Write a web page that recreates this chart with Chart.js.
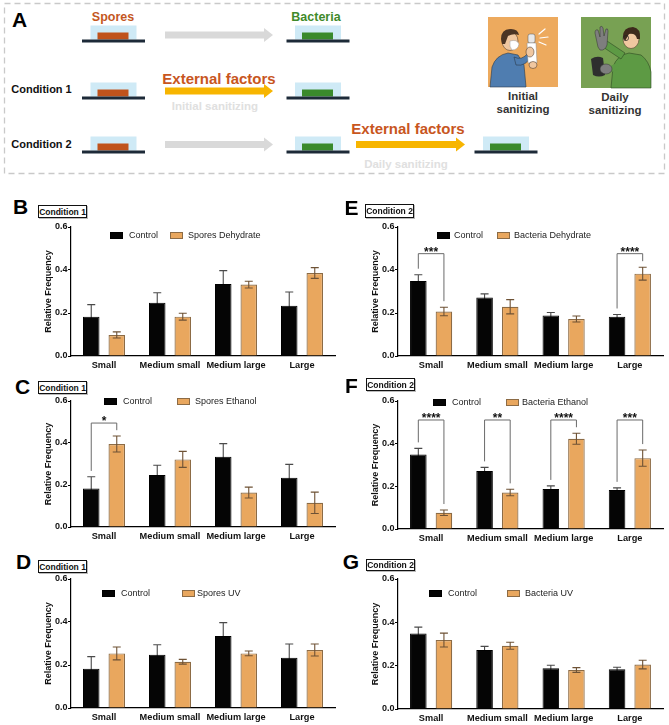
<!DOCTYPE html>
<html>
<head>
<meta charset="utf-8">
<script src="https://cdn.jsdelivr.net/npm/chart.js@4.4.1/dist/chart.umd.min.js"></script>
<style>
  html, body { margin: 0; padding: 0; background: #fff; }
  body { width: 669px; height: 725px; position: relative; overflow: hidden; font-family: 'Liberation Sans', Arial, sans-serif; }
  .abs { position: absolute; }
  canvas { position: absolute; }
  .t { position: absolute; line-height: 1; white-space: nowrap; color: #111; }
  .cond { position: absolute; border: 1px solid #111; box-sizing: border-box; font-weight: bold; font-size: 8.5px; display: flex; align-items: center; justify-content: center; color: #111; background: #fff; box-shadow: 1px 1px 0 #bbb; }
  .lgbox { position: absolute; box-sizing: border-box; }
</style>
</head>
<body>

<svg class="abs" style="left:0;top:0" width="669" height="178" xmlns="http://www.w3.org/2000/svg" font-family="'Liberation Sans', Arial, sans-serif">
  <rect x="4.5" y="3.5" width="660" height="170" fill="none" stroke="#c9c9c9" stroke-width="1.3" stroke-dasharray="6 4"/>
  <text x="12" y="27" font-size="21" font-weight="bold" fill="#000">A</text>
  <text x="113" y="20.5" font-size="12.5" font-weight="bold" fill="#c4571f" text-anchor="middle">Spores</text>
  <text x="316" y="20.5" font-size="12.5" font-weight="bold" fill="#3f8a2a" text-anchor="middle">Bacteria</text>
  <text x="41.5" y="93" font-size="11" font-weight="bold" fill="#111" text-anchor="middle">Condition 1</text>
  <text x="41.5" y="148" font-size="11" font-weight="bold" fill="#111" text-anchor="middle">Condition 2</text>
  <text x="219" y="83.5" font-size="15" font-weight="bold" fill="#c8561e" text-anchor="middle">External factors</text>
  <text x="408" y="133.5" font-size="15" font-weight="bold" fill="#c8561e" text-anchor="middle">External factors</text>
  <text x="215" y="110" font-size="11.5" font-weight="bold" fill="#e0e0e0" text-anchor="middle">Initial sanitizing</text>
  <text x="406" y="168" font-size="11.5" font-weight="bold" fill="#e0e0e0" text-anchor="middle">Daily sanitizing</text>
  <g id="dishes"></g>
  <g id="arrows"></g>

  <g transform="translate(488,17)">
    <rect width="70" height="70" fill="#EDAA5E"/>
    <path d="M2 70 L4 50 Q8 38 20 36 L30 38 L36 48 L38 70 Z" fill="#4f7db0" stroke="#2b3a4a" stroke-width="0.6"/>
    <ellipse cx="22" cy="24" rx="8" ry="9.5" fill="#f0c7a0" stroke="#3a2a20" stroke-width="0.5"/>
    <path d="M13 22 Q13 12 23 12 Q30 12 31 18 Q25 16 20 19 L17 27 L14 27 Z" fill="#4b3424"/>
    <path d="M22 24 Q29 22 31 27 Q30 33 24 33 Q21 30 22 24 Z" fill="#fff" stroke="#999" stroke-width="0.5"/>
    <path d="M26 40 Q34 44 40 36 L44 38 Q38 50 28 48 Z" fill="#4f7db0" stroke="#2b3a4a" stroke-width="0.6"/>
    <rect x="40" y="17" width="7" height="9" rx="2" fill="#e8e8e8" stroke="#555" stroke-width="0.5"/>
    <path d="M39 26 L48 26 L49 46 L40 46 Z" fill="#fff" stroke="#888" stroke-width="0.5"/>
    <ellipse cx="42" cy="35" rx="4" ry="5" fill="#f0c7a0" stroke="#3a2a20" stroke-width="0.5"/>
    <ellipse cx="45" cy="48" rx="4" ry="3.5" fill="#f0c7a0" stroke="#3a2a20" stroke-width="0.5"/>
    <g stroke="#fff" stroke-width="1.2" stroke-linecap="round"><line x1="51" y1="17" x2="57" y2="12"/><line x1="52" y1="21" x2="60" y2="20"/><line x1="51" y1="25" x2="58" y2="28"/></g>
  </g>
  <g transform="translate(581,17)">
    <rect width="70" height="71" fill="#78A153"/>
    <path d="M30 71 L32 50 Q36 38 48 36 L60 38 Q68 44 70 55 L70 71 Z" fill="#5d9a44" stroke="#2d4a22" stroke-width="0.6"/>
    <ellipse cx="50" cy="22" rx="8" ry="9.5" fill="#f0c7a0" stroke="#3a2a20" stroke-width="0.5"/>
    <path d="M42 20 Q42 10 52 10 Q60 11 59 22 L56 22 Q55 16 48 17 L44 24 Z" fill="#3d2a1c"/>
    <circle cx="45" cy="21" r="2.6" fill="none" stroke="#222" stroke-width="0.7"/>
    <path d="M40 42 L22 30 L26 24 L44 36 Z" fill="#5d9a44" stroke="#2d4a22" stroke-width="0.6"/>
    <path d="M17 30 L14 16 Q14 12 17 13 L19 20 L19 10 Q21 8 22 11 L23 19 L25 12 Q27 11 27 14 L26 28 Q24 34 19 33 Z" fill="#7e7e7e" stroke="#333" stroke-width="0.5"/>
    <path d="M38 52 L28 56 L27 50 L36 46 Z" fill="#5d9a44"/>
    <path d="M10 42 Q16 38 22 41 L24 58 Q18 61 12 58 Z" fill="#2e2e2e"/>
    <ellipse cx="25" cy="52" rx="6" ry="5" fill="#7e7e7e" stroke="#333" stroke-width="0.5"/>
  </g>
  <text x="523" y="100" font-size="11.5" font-weight="bold" fill="#333" text-anchor="middle">Initial</text>
  <text x="523" y="112.5" font-size="11.5" font-weight="bold" fill="#333" text-anchor="middle">sanitizing</text>
  <text x="615" y="101" font-size="11.5" font-weight="bold" fill="#333" text-anchor="middle">Daily</text>
  <text x="615" y="114" font-size="11.5" font-weight="bold" fill="#333" text-anchor="middle">sanitizing</text>
</svg>

<script>
// ---------------- DATA ----------------
const categories = ['Small', 'Medium small', 'Medium large', 'Large'];
const yTicks = [0, 0.2, 0.4, 0.6];

const control1 = [0.183, 0.248, 0.335, 0.234];
const control1Err = [0.056, 0.046, 0.062, 0.064];
const sporesDehydrate = [0.098, 0.183, 0.332, 0.386];
const sporesDehydrateErr = [0.014, 0.016, 0.016, 0.025];
const sporesEthanol = [0.395, 0.322, 0.164, 0.115];
const sporesEthanolErr = [0.038, 0.038, 0.026, 0.051];
const sporesUV = [0.254, 0.215, 0.254, 0.270];
const sporesUVErr = [0.030, 0.011, 0.011, 0.028];

const control2 = [0.349, 0.272, 0.188, 0.183];
const control2Err = [0.029, 0.017, 0.014, 0.010];
const bacteriaDehydrate = [0.207, 0.229, 0.172, 0.383];
const bacteriaDehydrateErr = [0.020, 0.033, 0.014, 0.030];
const bacteriaEthanol = [0.076, 0.171, 0.423, 0.332];
const bacteriaEthanolErr = [0.013, 0.015, 0.026, 0.038];
const bacteriaUV = [0.318, 0.292, 0.180, 0.205];
const bacteriaUVErr = [0.032, 0.016, 0.011, 0.020];

// significance: category index, stars, bracket level
const sigB = [];
const sigC = [{ cat: 0, stars: '*', level: 0.495 }];
const sigD = [];
const sigE = [{ cat: 0, stars: '***', level: 0.476 }, { cat: 3, stars: '****', level: 0.476 }];
const sigF = [{ cat: 0, stars: '****', level: 0.511 }, { cat: 1, stars: '**', level: 0.511 },
              { cat: 2, stars: '****', level: 0.511 }, { cat: 3, stars: '***', level: 0.511 }];
const sigG = [];

// ---------------- LAYOUT (positions only) ----------------
const FONT = "'Liberation Sans', Arial, sans-serif";
const panels = [
  { letter: 'B', cond: 'Condition 1', ctrl: control1, ctrlErr: control1Err, trt: sporesDehydrate, trtErr: sporesDehydrateErr, trtLabel: 'Spores Dehydrate', sig: sigB,
    plot: [71, 227, 335, 356], letterPos: [20.5, 205.5], condBox: [38, 205, 49, 13], legend: [110, 235, 129, 170, 188] },
  { letter: 'C', cond: 'Condition 1', ctrl: control1, ctrlErr: control1Err, trt: sporesEthanol, trtErr: sporesEthanolErr, trtLabel: 'Spores Ethanol', sig: sigC,
    plot: [71, 401, 335, 527], letterPos: [22.5, 385.5], condBox: [38, 381, 49, 13], legend: [104, 401, 123, 177, 195] },
  { letter: 'D', cond: 'Condition 1', ctrl: control1, ctrlErr: control1Err, trt: sporesUV, trtErr: sporesUVErr, trtLabel: 'Spores UV', sig: sigD,
    plot: [71, 579, 335, 708], letterPos: [23.5, 560.5], condBox: [38, 560, 49, 13], legend: [102, 593, 121, 182, 197] },
  { letter: 'E', cond: 'Condition 2', ctrl: control2, ctrlErr: control2Err, trt: bacteriaDehydrate, trtErr: bacteriaDehydrateErr, trtLabel: 'Bacteria Dehydrate', sig: sigE,
    plot: [398, 227, 663, 356], letterPos: [351.5, 206.5], condBox: [365, 204, 49, 14], legend: [437, 235, 454, 497, 514] },
  { letter: 'F', cond: 'Condition 2', ctrl: control2, ctrlErr: control2Err, trt: bacteriaEthanol, trtErr: bacteriaEthanolErr, trtLabel: 'Bacteria Ethanol', sig: sigF,
    plot: [398, 401, 663, 529], letterPos: [351.5, 384.5], condBox: [366, 378, 49, 13], legend: [433, 402, 452, 506, 522] },
  { letter: 'G', cond: 'Condition 2', ctrl: control2, ctrlErr: control2Err, trt: bacteriaUV, trtErr: bacteriaUVErr, trtLabel: 'Bacteria UV', sig: sigG,
    plot: [398, 579, 663, 709], letterPos: [351, 560.5], condBox: [366, 559, 49, 12], legend: [429, 593, 448, 507, 525] }
];

// ---------------- Panel A schematic ----------------
(function drawSchematic() {
  const NS = 'http://www.w3.org/2000/svg';
  const dishes = document.getElementById('dishes');
  const arrows = document.getElementById('arrows');
  function el(tag, attrs, parent) {
    const e = document.createElementNS(NS, tag);
    for (const k in attrs) e.setAttribute(k, attrs[k]);
    parent.appendChild(e);
    return e;
  }
  function dish(cx, ly, color) {
    el('rect', { x: cx - 23, y: ly - 15.5, width: 46, height: 14, fill: '#cfeaf6' }, dishes);
    el('rect', { x: cx - 16, y: ly - 8.5, width: 31, height: 7, fill: color }, dishes);
    el('rect', { x: cx - 31.5, y: ly - 1.5, width: 63, height: 3, fill: '#1d2a38' }, dishes);
  }
  const BROWN = '#c0531c', GREEN = '#3a8a2c';
  dish(113.5, 41, BROWN); dish(318, 41, GREEN);
  dish(113.5, 98, BROWN); dish(318, 98, GREEN);
  dish(113.5, 152, BROWN); dish(318, 152, GREEN); dish(506, 152, GREEN);
  function arrow(x1, x2, y, color) {
    el('rect', { x: x1, y: y - 3.5, width: x2 - x1 - 8, height: 7, fill: color }, arrows);
    el('polygon', { points: `${x2 - 9},${y - 7} ${x2},${y} ${x2 - 9},${y + 7}`, fill: color }, arrows);
  }
  arrow(165, 273, 35, '#d9d9d9');
  arrow(165, 273, 91, '#f7b500');
  arrow(165, 273, 144.5, '#d9d9d9');
  arrow(356, 465, 144.5, '#f7b500');
})();

// ---------------- Chart plugins ----------------
function drawErr(chart, behind) {
  const { ctx } = chart;
  const yS = chart.scales.y;
  chart.data.datasets.forEach((ds, di) => {
    if (!!ds.errBehind !== behind) return;
    const meta = chart.getDatasetMeta(di);
    meta.data.forEach((bar, j) => {
      const v = ds.data[j], e = ds.errors[j];
      const x = bar.x;
      const yt = yS.getPixelForValue(v + e), yb = yS.getPixelForValue(v - e);
      const cw = 4;
      ctx.save();
      ctx.strokeStyle = ds.errColor; ctx.lineWidth = 1.1;
      ctx.beginPath();
      ctx.moveTo(x, yb); ctx.lineTo(x, yt);
      ctx.moveTo(x - cw, yt); ctx.lineTo(x + cw, yt);
      ctx.moveTo(x - cw, yb); ctx.lineTo(x + cw, yb);
      ctx.stroke();
      ctx.restore();
    });
  });
}
const errorBarPlugin = {
  id: 'errorBars',
  beforeDatasetsDraw(chart) { drawErr(chart, true); },
  afterDatasetsDraw(chart) { drawErr(chart, false); }
};
const sigPlugin = {
  id: 'sigBrackets',
  afterDatasetsDraw(chart, args, opts) {
    const list = opts.items || [];
    if (!list.length) return;
    const { ctx } = chart;
    const yS = chart.scales.y;
    const d0 = chart.data.datasets[0], d1 = chart.data.datasets[1];
    const m0 = chart.getDatasetMeta(0), m1 = chart.getDatasetMeta(1);
    list.forEach(s => {
      const j = s.cat;
      const x1 = m0.data[j].x, x2 = m1.data[j].x;
      const yTop = yS.getPixelForValue(s.level);
      const yb1 = yS.getPixelForValue(d0.data[j] + d0.errors[j] + 0.028);
      const yb2 = yS.getPixelForValue(d1.data[j] + d1.errors[j] + 0.028);
      ctx.save();
      ctx.strokeStyle = '#6a6a6a'; ctx.lineWidth = 1;
      ctx.beginPath();
      ctx.moveTo(x1, yb1); ctx.lineTo(x1, yTop); ctx.lineTo(x2, yTop); ctx.lineTo(x2, yb2);
      ctx.stroke();
      ctx.fillStyle = '#111';
      ctx.font = 'bold 12px ' + FONT;
      ctx.textAlign = 'center';
      ctx.textBaseline = 'alphabetic';
      ctx.fillText(s.stars, (x1 + x2) / 2, yTop + 2);
      ctx.restore();
    });
  }
};

Chart.defaults.font.family = FONT;
Chart.defaults.color = '#111';

function addText(x, y, str, style) {
  const d = document.createElement('div');
  d.className = 't';
  d.textContent = str;
  Object.assign(d.style, style);
  d.style.left = x + 'px';
  d.style.top = y + 'px';
  document.body.appendChild(d);
  return d;
}

const CTRL_COLOR = '#050505', TRT_COLOR = '#E9A75E', TRT_BORDER = '#8c6b45';

panels.forEach(p => {
  const [L, T, R, B] = p.plot;
  const yW = 31, padTop = 8, padRight = 4, xH = 18;
  const cl = L - yW, ct = T - padTop;
  const cw = R + padRight - cl, ch = (B - T) + padTop + xH;

  const lt = addText(p.letterPos[0], p.letterPos[1], p.letter, { fontSize: '21px', fontWeight: 'bold', color: '#000' });
  lt.style.transform = 'translate(-50%,-49%)';
  const cb = document.createElement('div');
  cb.className = 'cond';
  cb.textContent = p.cond;
  Object.assign(cb.style, { left: p.condBox[0] + 'px', top: p.condBox[1] + 'px', width: p.condBox[2] + 'px', height: p.condBox[3] + 'px' });
  document.body.appendChild(cb);

  const canvas = document.createElement('canvas');
  canvas.width = cw; canvas.height = ch;
  canvas.style.left = cl + 'px'; canvas.style.top = ct + 'px';
  canvas.style.width = cw + 'px'; canvas.style.height = ch + 'px';
  document.body.appendChild(canvas);

  const chart = new Chart(canvas.getContext('2d'), {
    type: 'bar',
    data: {
      labels: categories,
      datasets: [
        { label: 'Control', data: p.ctrl, errors: p.ctrlErr, errBehind: true, errColor: '#4a4a4a',
          backgroundColor: CTRL_COLOR, borderColor: '#000', borderWidth: 1,
          categoryPercentage: 0.773, barPercentage: 0.647 },
        { label: p.trtLabel, data: p.trt, errors: p.trtErr, errBehind: false, errColor: '#6e5235',
          backgroundColor: TRT_COLOR, borderColor: TRT_BORDER, borderWidth: 1.2,
          categoryPercentage: 0.773, barPercentage: 0.647 }
      ]
    },
    options: {
      responsive: false,
      animation: false,
      events: [],
      layout: { padding: { top: padTop, right: padRight, bottom: 0, left: 0 }, autoPadding: false },
      plugins: {
        legend: { display: false },
        tooltip: { enabled: false },
        sigBrackets: { items: p.sig }
      },
      scales: {
        x: {
          grid: { display: false, drawTicks: false },
          border: { display: true, color: '#000', width: 1.2 },
          ticks: { font: { size: 9.2, weight: 'bold' }, color: '#111', padding: 4, maxRotation: 0, autoSkip: false },
          afterFit: s => { s.height = xH; }
        },
        y: {
          min: yTicks[0], max: yTicks[yTicks.length - 1],
          afterBuildTicks: s => { s.ticks = yTicks.map(v => ({ value: v })); },
          ticks: { callback: v => Number(v).toFixed(1), font: { size: 9, weight: 'bold' }, color: '#111', padding: 0.5 },
          grid: { display: true, drawOnChartArea: false, drawTicks: true, tickLength: 3, color: '#000', lineWidth: 1 },
          border: { display: true, color: '#000', width: 1.2 },
          title: { display: true, text: 'Relative Frequency', font: { size: 9, weight: 'bold' }, color: '#111', padding: { top: 3, bottom: 0 } },
          afterFit: s => { s.width = yW; }
        }
      }
    },
    plugins: [errorBarPlugin, sigPlugin]
  });

  const [bx, cy, tx, ox, lx] = p.legend;
  const ds = chart.data.datasets;
  [[bx, tx, ds[0]], [ox, lx, ds[1]]].forEach(([boxX, textX, d]) => {
    const b = document.createElement('div');
    b.className = 'lgbox';
    Object.assign(b.style, { left: boxX + 'px', top: (cy - 3.5) + 'px', width: '13px', height: '7px',
      background: d.backgroundColor, border: '1px solid ' + d.borderColor });
    document.body.appendChild(b);
    const t = addText(textX, cy, d.label, { fontSize: '9px', color: '#222' });
    t.style.transform = 'translateY(-50%)';
  });
});
</script>
</body>
</html>
